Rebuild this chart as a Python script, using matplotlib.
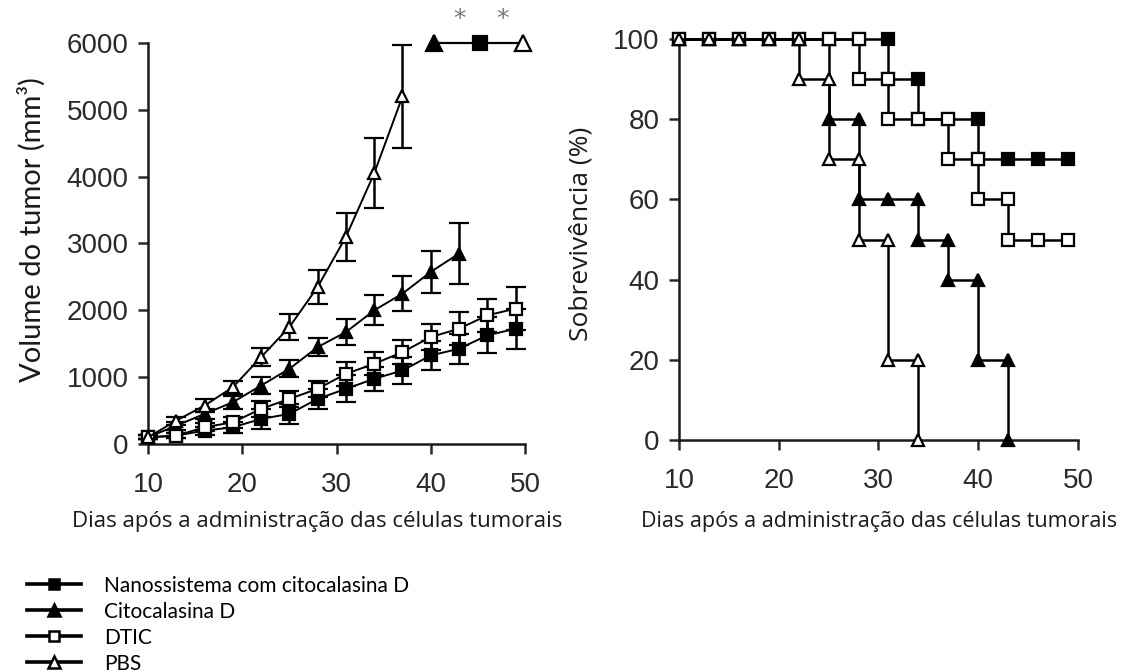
import matplotlib.pyplot as plt
from matplotlib.lines import Line2D

# tumour growth, measured every 3 days
days = [10, 13, 16, 19, 22, 25, 28, 31, 34, 37, 40, 43, 46, 49]

nano_vol = [100, 125, 200, 250, 375, 450, 675, 825, 975, 1100, 1325, 1425, 1625, 1725]
nano_err = [30, 40, 60, 80, 150, 150, 150, 200, 175, 200, 220, 225, 270, 300]

cito_vol = [100, 275, 450, 625, 875, 1125, 1450, 1675, 2000, 2250, 2575, 2850]
cito_err = [30, 60, 80, 100, 120, 130, 130, 200, 225, 260, 310, 460]

dtic_vol = [100, 125, 250, 325, 525, 675, 825, 1050, 1200, 1375, 1600, 1725, 1925, 2025]
dtic_err = [30, 40, 60, 80, 120, 125, 125, 175, 175, 175, 200, 250, 250, 325]

pbs_vol = [100, 350, 575, 850, 1300, 1750, 2350, 3100, 4050, 5200]
pbs_err = [30, 60, 100, 100, 140, 200, 260, 360, 525, 775]

# groups that reached the volume limit, and significance marks
limit_days = [40.3, 45.2, 49.8]
limit_vol = 6000
star_days = [43.0, 47.6]
star_vol = 6360

# Kaplan-Meier survival (%), points at both ends of each drop
nano_sx = [10, 13, 16, 19, 22, 25, 28, 31, 31, 34, 34, 37, 40, 40, 43, 46, 49]
nano_sy = [100, 100, 100, 100, 100, 100, 100, 100, 90, 90, 80, 80, 80, 70, 70, 70, 70]

cito_sx = [10, 13, 16, 19, 22, 25, 25, 28, 28, 31, 34, 34, 37, 37, 40, 40, 43, 43]
cito_sy = [100, 100, 100, 100, 100, 100, 80, 80, 60, 60, 60, 50, 50, 40, 40, 20, 20, 0]

dtic_sx = [10, 13, 16, 19, 22, 25, 28, 28, 31, 31, 34, 37, 37, 40, 40, 43, 43, 46, 49]
dtic_sy = [100, 100, 100, 100, 100, 100, 100, 90, 90, 80, 80, 80, 70, 70, 60, 60, 50, 50, 50]

pbs_sx = [10, 13, 16, 19, 22, 22, 25, 25, 28, 28, 31, 31, 34, 34]
pbs_sy = [100, 100, 100, 100, 100, 90, 90, 70, 70, 50, 50, 20, 20, 0]

labels = ["Nanossistema com citocalasina D", "Citocalasina D", "DTIC", "PBS"]
markers = ["s", "^", "s", "^"]
faces = ["black", "black", "white", "white"]
msizes = [8, 9, 8, 9]

tick_font = "Liberation Sans"
ink = "#1a1a1a"

fig = plt.figure(figsize=(11.23, 6.72), dpi=100)
ax1 = fig.add_axes([0.1318, 0.3393, 0.3357, 0.5967])
ax2 = fig.add_axes([0.6046, 0.3452, 0.3553, 0.5967])

for ax in (ax1, ax2):
    for side in ("top", "right"):
        ax.spines[side].set_visible(False)
    for side in ("left", "bottom"):
        ax.spines[side].set_linewidth(1.8)
        ax.spines[side].set_color(ink)
    ax.tick_params(direction="out", length=7, width=1.8, colors="#2a2a2a",
                   labelsize=20, labelfontfamily=tick_font)
    ax.tick_params(axis="x", pad=13)
    ax.tick_params(axis="y", pad=7)
    ax.set_xlim(10, 50)
    ax.set_xticks([10, 20, 30, 40, 50])

# left panel: tumour volume with error bars
growth = [
    (days, nano_vol, nano_err),
    (days[:len(cito_vol)], cito_vol, cito_err),
    (days, dtic_vol, dtic_err),
    (days[:len(pbs_vol)], pbs_vol, pbs_err),
]
for (x, y, e), m, fc, ms in zip(growth, markers, faces, msizes):
    ax1.errorbar(x, y, yerr=e, fmt="-", marker=m, ms=ms, mfc=fc, mec="black",
                 mew=1.6, color="black", lw=1.4, ecolor="black", elinewidth=1.8,
                 capsize=7, capthick=1.8, clip_on=False, zorder=3)

ax1.plot(limit_days, [limit_vol] * 3, color="black", lw=1.6, clip_on=False, zorder=3)
for d, m, fc, ms in zip(limit_days, ["^", "s", "^"], ["black", "black", "white"], [11, 10, 11]):
    ax1.plot(d, limit_vol, marker=m, ms=ms, mfc=fc, mec="black", mew=1.6,
             clip_on=False, zorder=4)
for d in star_days:
    ax1.text(d, star_vol, "*", ha="center", va="center", fontsize=18,
             color="#777777", family="DejaVu Sans")

ax1.set_ylim(0, 6000)
ax1.set_yticks(range(0, 6001, 1000))
ax1.set_ylabel("Volume do tumor (mm³)", fontsize=21, family="Lato", color=ink)
ax1.yaxis.set_label_coords(-0.27, 0.535)

# right panel: survival curves
survival = [(nano_sx, nano_sy), (cito_sx, cito_sy), (dtic_sx, dtic_sy), (pbs_sx, pbs_sy)]
for (x, y), m, fc, ms in zip(survival, markers, faces, msizes):
    ax2.plot(x, y, "-", marker=m, ms=ms, mfc=fc, mec="black", mew=1.6,
             color="black", lw=1.8, clip_on=False, zorder=3)

ax2.set_ylim(0, 100)
ax2.set_yticks(range(0, 101, 20))
ax2.set_ylabel("Sobrevivência (%)", fontsize=19, family="Open Sans", color=ink)
ax2.yaxis.set_label_coords(-0.215, 0.515)

xlab = "Dias após a administração das células tumorais"
fig.text(317 / 1123, 1 - 522 / 672, xlab, ha="center", va="center",
         fontsize=16, family="Open Sans", color=ink)
fig.text(879 / 1123, 1 - 522 / 672, xlab, ha="center", va="center",
         fontsize=15.5, family="Open Sans", color=ink)

handles = [Line2D([], [], color="black", lw=2.6, marker=m, ms=ms - 1, mfc=fc,
                  mec="black", mew=1.8) for m, fc, ms in zip(markers, faces, msizes)]
fig.legend(handles, labels, loc="upper left", bbox_to_anchor=(12 / 1123, 1 - 561 / 672),
           frameon=False, handlelength=2.6, handletextpad=1.1, labelspacing=0.29,
           borderpad=0.2, prop={"family": "Lato", "size": 15})

fig.savefig("out.png", dpi=100)
